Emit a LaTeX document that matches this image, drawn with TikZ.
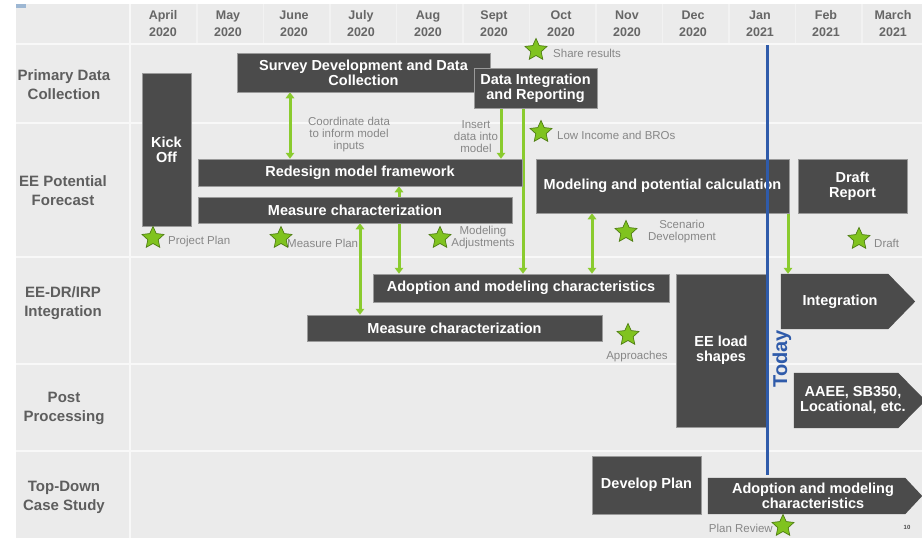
\documentclass[tikz,border=0pt]{standalone}
\usepackage{fontspec}
\setmainfont{Liberation Sans}
\usetikzlibrary{shapes.geometric,arrows.meta,calc}
\pgfdeclarelayer{bg}
\pgfdeclarelayer{arr}
\pgfsetlayers{bg,arr,main}
\definecolor{bgc}{HTML}{EBEBEB}
\definecolor{gridc}{HTML}{F8F8F8}
\definecolor{headc}{HTML}{F2F2F2}
\definecolor{boxc}{HTML}{4B4B4B}
\definecolor{boxedge}{HTML}{9A9A9A}
\definecolor{labc}{HTML}{5E5E5E}
\definecolor{monc}{HTML}{666666}
\definecolor{notec}{HTML}{878787}
\definecolor{arrg}{HTML}{8ACB2E}
\definecolor{starf}{HTML}{80C31F}
\definecolor{stard}{HTML}{4E7D12}
\definecolor{todayc}{HTML}{2F5BAA}
\definecolor{markc}{HTML}{9DB7D3}
\tikzset{
  box/.style={fill=boxc, draw=boxedge, line width=0.5pt, text=white,
    font=\bfseries\fontsize{14.5}{15}\selectfont, align=center, inner sep=0pt},
  body/.style={inner sep=0pt},
  boxtext/.style={text=white, font=\bfseries\fontsize{14.5}{15}\selectfont, align=center, inner sep=0pt},
  rowlab/.style={text=labc, font=\bfseries\fontsize{15}{19}\selectfont, align=center, inner sep=0pt},
  month/.style={text=monc, font=\bfseries\fontsize{12.5}{17}\selectfont, align=center, inner sep=0pt},
  note/.style={text=notec, font=\fontsize{11.5}{12}\selectfont, align=center, inner sep=0pt},
  starmark/.style={star, star points=5, star point ratio=2.1, fill=starf, draw=stard,
    line width=0.7pt, minimum size=23pt, inner sep=0pt},
  link/.style={draw=arrg, line width=3pt},
  both/.style={link, {Triangle[length=6pt,width=8.5pt]}-{Triangle[length=6pt,width=8.5pt]}},
  down/.style={link, -{Triangle[length=6pt,width=8.5pt]}},
  gridline/.style={draw=gridc, line width=2pt},
  headline/.style={draw=headc, line width=1.2pt},
}
\begin{document}
\begin{tikzpicture}[x=1pt,y=-1pt]
\useasboundingbox (0,0) rectangle (922,538);

% ---------- background ----------
\begin{pgfonlayer}{bg}
  \fill[white] (0,0) rectangle (922,538);
  \fill[bgc] (16,4) rectangle (922,538);
  \fill[markc] (16,4) rectangle (26,8);
  \foreach \x in {197,263.5,330,396.5,463,529.5,596,662.5,729,795.5,862}
    \draw[headline] (\x,4) -- (\x,44);
  \foreach \y in {44,123,257,364,451}
    \draw[gridline] (16,\y) -- (922,\y);
  \draw[gridline] (130,4) -- (130,538);
\end{pgfonlayer}

% ---------- month headers ----------
\node[month] (m1) at (163,23.5) {April\\2020};
\node[month] (m2) at (228,23.5) {May\\2020};
\node[month] (m3) at (294,23.5) {June\\2020};
\node[month] (m4) at (361,23.5) {July\\2020};
\node[month] (m5) at (428,23.5) {Aug\\2020};
\node[month] (m6) at (494,23.5) {Sept\\2020};
\node[month] (m7) at (561,23.5) {Oct\\2020};
\node[month] (m8) at (627,23.5) {Nov\\2020};
\node[month] (m9) at (693,23.5) {Dec\\2020};
\node[month] (m10) at (760,23.5) {Jan\\2021};
\node[month] (m11) at (826,23.5) {Feb\\2021};
\node[month] (m12) at (893,23.5) {March\\2021};

% ---------- row labels ----------
\node[rowlab] (r1) at (64,85) {Primary Data\\Collection};
\node[rowlab] (r2) at (63,191) {EE Potential\\Forecast};
\node[rowlab] (r3) at (63,303) {EE-DR/IRP\\Integration};
\node[rowlab] (r4) at (64,408.5) {Post\\Processing};
\node[rowlab] (r5) at (64,497.5) {Top-Down\\Case Study};

% ---------- boxes ----------
\node[box, minimum width=49pt, minimum height=153pt] (kick) at (166.5,149.5) {Kick\\Off};
\node[box, minimum width=253pt, minimum height=39pt] (survey) at (363.5,72.5) {Survey Development and Data\\Collection};
\node[box, minimum width=123pt, minimum height=40pt] (dataint) at (535.5,88) {Data Integration\\and Reporting};
\node[box, minimum width=324pt, minimum height=27pt] (redesign) at (360,172.5) {Redesign model framework};
\node[box, minimum width=314pt, minimum height=26pt] (measee) at (355,210) {Measure characterization};
\node[box, minimum width=253pt, minimum height=54pt] (modcalc) at (662.5,186) {Modeling and potential calculation};
\node[box, minimum width=109pt, minimum height=54pt] (draft) at (852.5,186) {Draft\\Report};
\node[box, minimum width=296pt, minimum height=28pt] (adoptdr) at (521,288) {Adoption and modeling characteristics};
\node[box, minimum width=295pt, minimum height=26pt] (measdr) at (454.5,328) {Measure characterization};
\node[box, minimum width=90pt, minimum height=153pt] (eeload) at (721,350.5) {EE load\\shapes};
\node[box, minimum width=109pt, minimum height=58pt] (devplan) at (646.5,485) {Develop Plan};

% arrow-shaped boxes
\node[body, minimum width=107pt, minimum height=55pt] (integ) at (834.5,301.5) {};
\fill[boxc] (integ.north west) -- (integ.north east) -- ($(integ.east)+(27,0)$)
  -- (integ.south east) -- (integ.south west) -- cycle;
\node[boxtext] (integt) at (840,302) {Integration};

\node[body, minimum width=104pt, minimum height=55pt] (aaee) at (846,400.5) {};
\fill[boxc] (aaee.north west) -- (aaee.north east) -- ($(aaee.north east)+(24,24.4)$)
  -- ($(aaee.south east)+(24,-24.4)$) -- (aaee.south east) -- (aaee.south west) -- cycle;
\node[boxtext] (aaeet) at (853,400) {AAEE, SB350,\\Locational, etc.};

\node[body, minimum width=197pt, minimum height=36pt] (adopttd) at (806.5,496) {};
\fill[boxc] (adopttd.north west) -- (adopttd.north east) -- ($(adopttd.east)+(17,0)$)
  -- (adopttd.south east) -- (adopttd.south west) -- cycle;
\node[boxtext] (adopttdt) at (813,496) {Adoption and modeling\\characteristics};

% ---------- connectors ----------
\coordinate (xa) at (290,0);
\coordinate (xb) at (399,0);
\coordinate (xc) at (360,0);
\coordinate (xd) at (501,0);
\coordinate (xe) at (523,0);
\coordinate (xf) at (592,0);
\coordinate (xg) at (788,0);
\begin{pgfonlayer}{arr}
  \draw[both] (survey.south -| xa) -- (redesign.north -| xa);
  \draw[both] (redesign.south -| xb) -- (adoptdr.north -| xb);
  \draw[both] (measee.south -| xc) -- (measdr.north -| xc);
  \draw[down] (dataint.south -| xd) -- (redesign.north -| xd);
  \draw[down] (dataint.south -| xe) -- (adoptdr.north -| xe);
  \draw[both] (modcalc.south -| xf) -- (adoptdr.north -| xf);
  \draw[down] (modcalc.south -| xg) -- (integ.north -| xg);
\end{pgfonlayer}

% ---------- notes ----------
\node[note] (coord) at (349,135) {Coordinate data\\to inform model\\inputs};
\node[note] (insert) at (476,137) {Insert\\data into\\model};

% ---------- milestones ----------
\node[starmark] (s1) at (536,50) {};
\node[note, anchor=west] (l1) at (553,53) {Share results};
\node[starmark] (s2) at (541,132) {};
\node[note, anchor=west] (l2) at (557,135) {Low Income and BROs};
\node[starmark] (s3) at (153,238) {};
\node[note, anchor=west] (l3) at (168,242) {Project Plan};
\node[note, anchor=west] (l4) at (287,243) {Measure Plan};
\node[starmark] (s4) at (281,238) {};
\node[starmark] (s5) at (440,238) {};
\node[note] (l5) at (483,238) {Modeling\\Adjustments};
\node[starmark] (s6) at (626,232) {};
\node[note] (l6) at (682,232) {Scenario\\Development};
\node[starmark] (s7) at (859,239) {};
\node[note, anchor=west] (l7) at (874,243) {Draft};
\node[starmark] (s8) at (628,335) {};
\node[note] (l8) at (637,357) {Approaches};
\node[note, anchor=east] (l9) at (773,528) {Plan Review};
\node[starmark] (s9) at (783,526) {};

% ---------- today ----------
\coordinate (t1) at (767.5,45);
\coordinate (t2) at (767.5,475);
\draw[todayc, line width=2.6pt] (t1) -- (t2);
\node[rotate=90, text=todayc, font=\bfseries\fontsize{20}{20}\selectfont, inner sep=0pt] (today) at (782,359) {Today};

% page number
\node[text=boxc, font=\bfseries\fontsize{6}{6}\selectfont, inner sep=0pt] (pg) at (907,527) {10};
\end{tikzpicture}
\end{document}
